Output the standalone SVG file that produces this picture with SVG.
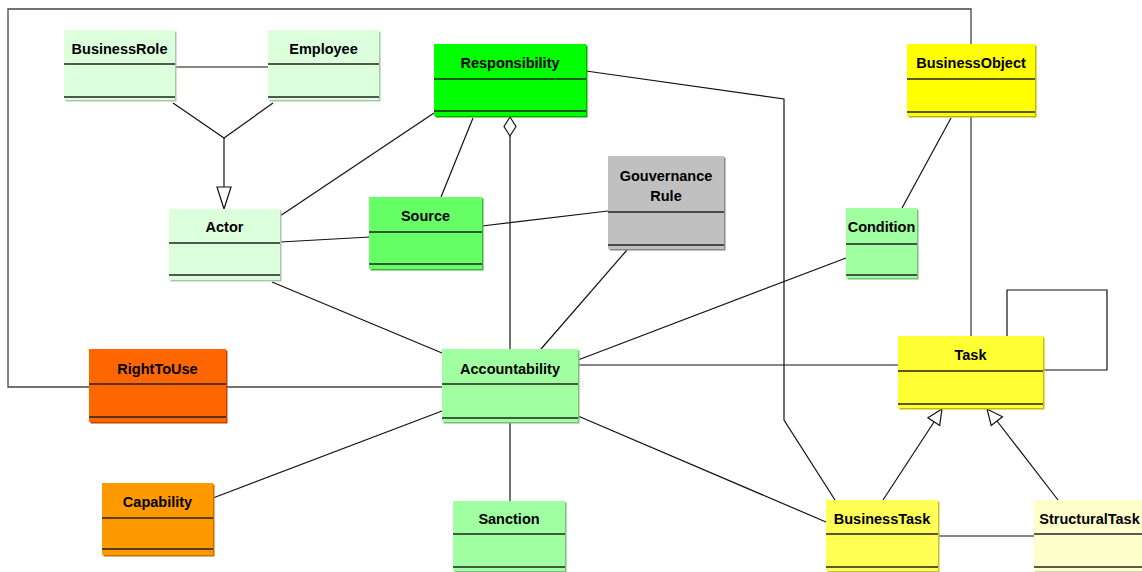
<svg xmlns="http://www.w3.org/2000/svg" width="1142" height="572" viewBox="0 0 1142 572">
<style>
.t{font-family:"Liberation Sans",Arial,sans-serif;font-weight:bold;font-size:14.5px;fill:#000;text-anchor:middle}
.sep{stroke:#222;stroke-width:1.5}
.c{fill:none;stroke:#111;stroke-width:1.2}
.g{fill:none;stroke:#444;stroke-width:1.3}
.hd{fill:#fff;stroke:#111;stroke-width:1.2}
.lg{fill:#dcffdc}.lgs{fill:#a8c8a8}
.mg{fill:#a0ffa0}.mgs{fill:#78c078}
</style>
<rect width="1142" height="572" fill="#fff"/>
<g id="connectors">
<polyline class="g" points="971,44 971,9 8,9 8,387 89,387"/>
<line class="c" x1="175" y1="67" x2="268" y2="67"/>
<polyline class="c" points="173,103 224,138 273,103"/>
<line class="c" x1="224" y1="138" x2="224" y2="187"/>
<polygon class="hd" points="217,187 231,187 224,209"/>
<line class="c" x1="434" y1="113" x2="280" y2="216"/>
<line class="c" x1="473" y1="118" x2="441" y2="197"/>
<line class="c" x1="510" y1="136" x2="510" y2="349"/>
<polygon class="hd" points="510,117 516,126.5 510,136 504,126.5"/>
<polyline class="c" points="586,71 784,99 784,420 835,500"/>
<line class="c" x1="280" y1="242" x2="370" y2="237"/>
<line class="c" x1="482" y1="226" x2="608" y2="211"/>
<line class="c" x1="627" y1="250" x2="541" y2="349"/>
<line class="c" x1="272" y1="282" x2="442" y2="353"/>
<line class="c" x1="846" y1="258" x2="578" y2="360"/>
<line class="c" x1="578" y1="365" x2="898" y2="365"/>
<line class="c" x1="951" y1="118" x2="902" y2="208"/>
<line class="g" x1="971" y1="116" x2="971" y2="336"/>
<polyline class="c" points="1007,336 1007,290 1107,290 1107,370 1043,370"/>
<line class="g" x1="226" y1="387" x2="442" y2="387"/>
<line class="c" x1="213" y1="498" x2="442" y2="411"/>
<line class="c" x1="510" y1="422" x2="510" y2="501"/>
<line class="c" x1="578" y1="416" x2="826" y2="522"/>
<line class="c" x1="938" y1="536" x2="1034" y2="536"/>
<line class="c" x1="883" y1="500" x2="934" y2="422"/>
<polygon class="hd" points="942,409 939.7,425.4 927.9,417.8"/>
<line class="c" x1="1058" y1="500" x2="997" y2="421"/>
<polygon class="hd" points="987,409 1002.5,416.8 991.2,425.4"/>
</g>
<g id="BusinessRole">
<rect class="lgs" x="65.5" y="31.5" width="111" height="70"/><rect class="lg" x="64" y="30" width="111" height="70"/>
<line class="sep" x1="64" y1="64" x2="175" y2="64"/><line class="sep" x1="64" y1="97" x2="175" y2="97"/>
<text class="t" x="119.5" y="54">BusinessRole</text></g>
<g id="Employee">
<rect class="lgs" x="269.5" y="31.5" width="111" height="70"/><rect class="lg" x="268" y="30" width="111" height="70"/>
<line class="sep" x1="268" y1="64" x2="379" y2="64"/><line class="sep" x1="268" y1="97" x2="379" y2="97"/>
<text class="t" x="323.5" y="54">Employee</text></g>
<g id="Responsibility">
<rect fill="#00b000" x="435.5" y="45.5" width="152" height="72"/><rect fill="#00ff00" x="434" y="44" width="152" height="72"/>
<line class="sep" x1="434" y1="79" x2="586" y2="79"/><line class="sep" x1="434" y1="111" x2="586" y2="111"/>
<text class="t" x="510" y="68">Responsibility</text></g>
<g id="BusinessObject">
<rect fill="#b8b800" x="908.5" y="45.5" width="128" height="72"/><rect fill="#ffff00" x="907" y="44" width="128" height="72"/>
<line class="sep" x1="907" y1="79" x2="1035" y2="79"/><line class="sep" x1="907" y1="112" x2="1035" y2="112"/>
<text class="t" x="971" y="68">BusinessObject</text></g>
<g id="GouvernanceRule">
<rect fill="#888" x="609.5" y="157.5" width="116" height="93"/><rect fill="#c0c0c0" x="608" y="156" width="116" height="93"/>
<line class="sep" x1="608" y1="212" x2="724" y2="212"/><line class="sep" x1="608" y1="245" x2="724" y2="245"/>
<text class="t" x="666" y="181">Gouvernance</text><text class="t" x="666" y="201">Rule</text></g>
<g id="Source">
<rect fill="#40b040" x="370.5" y="198.5" width="113" height="72"/><rect fill="#66ff66" x="369" y="197" width="113" height="72"/>
<line class="sep" x1="369" y1="232" x2="482" y2="232"/><line class="sep" x1="369" y1="264" x2="482" y2="264"/>
<text class="t" x="425.5" y="221">Source</text></g>
<g id="Condition">
<rect class="mgs" x="847.5" y="209.5" width="71" height="70"/><rect class="mg" x="846" y="208" width="71" height="70"/>
<line class="sep" x1="846" y1="244" x2="917" y2="244"/><line class="sep" x1="846" y1="275" x2="917" y2="275"/>
<text class="t" x="881.5" y="232">Condition</text></g>
<g id="Actor">
<rect class="lgs" x="170.5" y="210.5" width="111" height="71"/><rect class="lg" x="169" y="209" width="111" height="71"/>
<line class="sep" x1="169" y1="243" x2="280" y2="243"/><line class="sep" x1="169" y1="275" x2="280" y2="275"/>
<text class="t" x="224.5" y="232">Actor</text></g>
<g id="Task">
<rect fill="#c0c000" x="899.5" y="337.5" width="145" height="72"/><rect fill="#ffff33" x="898" y="336" width="145" height="72"/>
<line class="sep" x1="898" y1="371" x2="1043" y2="371"/><line class="sep" x1="898" y1="404" x2="1043" y2="404"/>
<text class="t" x="970.5" y="360">Task</text></g>
<g id="RightToUse">
<rect fill="#c04400" x="90.5" y="350.5" width="137" height="73"/><rect fill="#ff6600" x="89" y="349" width="137" height="73"/>
<line class="sep" x1="89" y1="384" x2="226" y2="384"/><line class="sep" x1="89" y1="417" x2="226" y2="417"/>
<text class="t" x="157.5" y="374">RightToUse</text></g>
<g id="Accountability">
<rect class="mgs" x="443.5" y="350.5" width="136" height="73"/><rect class="mg" x="442" y="349" width="136" height="73"/>
<line class="sep" x1="442" y1="384" x2="578" y2="384"/><line class="sep" x1="442" y1="418" x2="578" y2="418"/>
<text class="t" x="510" y="374">Accountability</text></g>
<g id="Capability">
<rect fill="#c07000" x="103.5" y="484.5" width="111" height="72"/><rect fill="#ff9900" x="102" y="483" width="111" height="72"/>
<line class="sep" x1="102" y1="518" x2="213" y2="518"/><line class="sep" x1="102" y1="549" x2="213" y2="549"/>
<text class="t" x="157.5" y="507">Capability</text></g>
<g id="Sanction">
<rect class="mgs" x="454.5" y="502.5" width="112" height="70"/><rect class="mg" x="453" y="501" width="112" height="70"/>
<line class="sep" x1="453" y1="534" x2="565" y2="534"/><line class="sep" x1="453" y1="567" x2="565" y2="567"/>
<text class="t" x="509" y="524">Sanction</text></g>
<g id="BusinessTask">
<rect fill="#c0c040" x="827.5" y="501.5" width="112" height="71"/><rect fill="#ffff55" x="826" y="500" width="112" height="71"/>
<line class="sep" x1="826" y1="534" x2="938" y2="534"/><line class="sep" x1="826" y1="567" x2="938" y2="567"/>
<text class="t" x="882" y="524">BusinessTask</text></g>
<g id="StructuralTask">
<rect fill="#d0d0a0" x="1035.5" y="501.5" width="111" height="71"/><rect fill="#ffffcc" x="1034" y="500" width="111" height="71"/>
<line class="sep" x1="1034" y1="534" x2="1145" y2="534"/><line class="sep" x1="1034" y1="567" x2="1145" y2="567"/>
<text class="t" x="1089.5" y="524">StructuralTask</text></g>
</svg>
